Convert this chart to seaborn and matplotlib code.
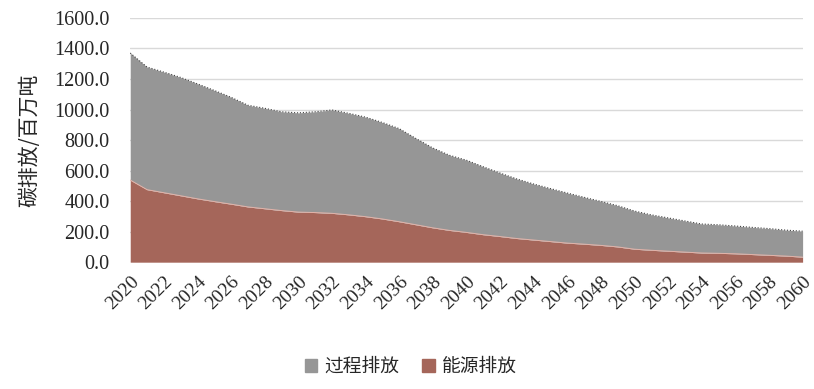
import numpy as np
import pandas as pd
import matplotlib
matplotlib.use("Agg")
import matplotlib.pyplot as plt
import seaborn as sns
from matplotlib.patches import Patch

years = list(range(2020, 2061))

# 能源排放 (bottom layer)
energy = [538, 475, 455, 435, 415, 397, 380, 362, 350, 338,
          328, 325, 320, 310, 298, 283, 265, 245, 225, 208,
          195, 180, 168, 155, 145, 135, 125, 118, 110, 100,
          85, 78, 72, 66, 60, 58, 55, 50, 45, 40, 33]

# 总排放 (top edge)
total = [1370, 1278, 1245, 1210, 1168, 1125, 1080, 1028, 1008, 985,
         978, 985, 997, 975, 950, 915, 875, 810, 748, 700,
         668, 625, 584, 545, 512, 482, 453, 425, 398, 370,
         335, 310, 290, 270, 250, 245, 237, 228, 220, 210, 203]

process = [t - e for t, e in zip(total, energy)]

df = pd.DataFrame({'year': years, '能源排放': energy, '过程排放': process})
df['total'] = df['能源排放'] + df['过程排放']

sns.set_style('white')
plt.rcParams['font.family'] = ['Liberation Serif', 'Noto Sans CJK SC', 'DejaVu Sans']

c_energy = '#a5665a'
c_process = '#969696'

fig = plt.figure(figsize=(8.14, 3.89), dpi=100)
ax = fig.add_axes([0.16, 0.326, 0.826, 0.628])

# 网格线
for v in range(0, 1601, 200):
    ax.axhline(v, color='#d9d9d9', lw=1, zorder=0)

ax.fill_between(df['year'], 0, df['能源排放'], color=c_energy, lw=0, zorder=2)
ax.fill_between(df['year'], df['能源排放'], df['total'], color=c_process, lw=0, zorder=2)
sns.lineplot(data=df, x='year', y='能源排放', ax=ax, color='#e3b3a9', lw=0.7, zorder=3)
sns.lineplot(data=df, x='year', y='total', ax=ax, color='#444444', lw=0.8, ls=':', zorder=3)

ax.set_xlim(2020, 2060)
ax.set_ylim(0, 1600)
ax.set_xticks(range(2020, 2061, 2))
ax.set_yticks(range(0, 1601, 200))
ax.set_yticklabels([f'{v:.1f}' for v in range(0, 1601, 200)],
                   fontsize=14.5, family='Liberation Serif')
ax.set_xticklabels([str(y) for y in range(2020, 2061, 2)], rotation=45,
                   ha='right', rotation_mode='anchor', fontsize=14,
                   family='Liberation Serif')
ax.tick_params(axis='y', length=0, pad=15)
ax.tick_params(axis='x', length=0, pad=8)
ax.set_xlabel('')
ax.set_ylabel('碳排放/百万吨', family='Noto Sans CJK SC', fontsize=15, labelpad=10)
for s in ax.spines.values():
    s.set_visible(False)

handles = [Patch(color=c_process, label='过程排放'), Patch(color=c_energy, label='能源排放')]
fig.legend(handles=handles, loc='center', bbox_to_anchor=(0.505, 0.058), ncol=2,
           frameon=False, prop={'family': 'Noto Sans CJK SC', 'size': 13.5},
           handlelength=0.65, handleheight=0.65, handletextpad=0.4, columnspacing=1.2)

fig.savefig('out.png', dpi=100)
